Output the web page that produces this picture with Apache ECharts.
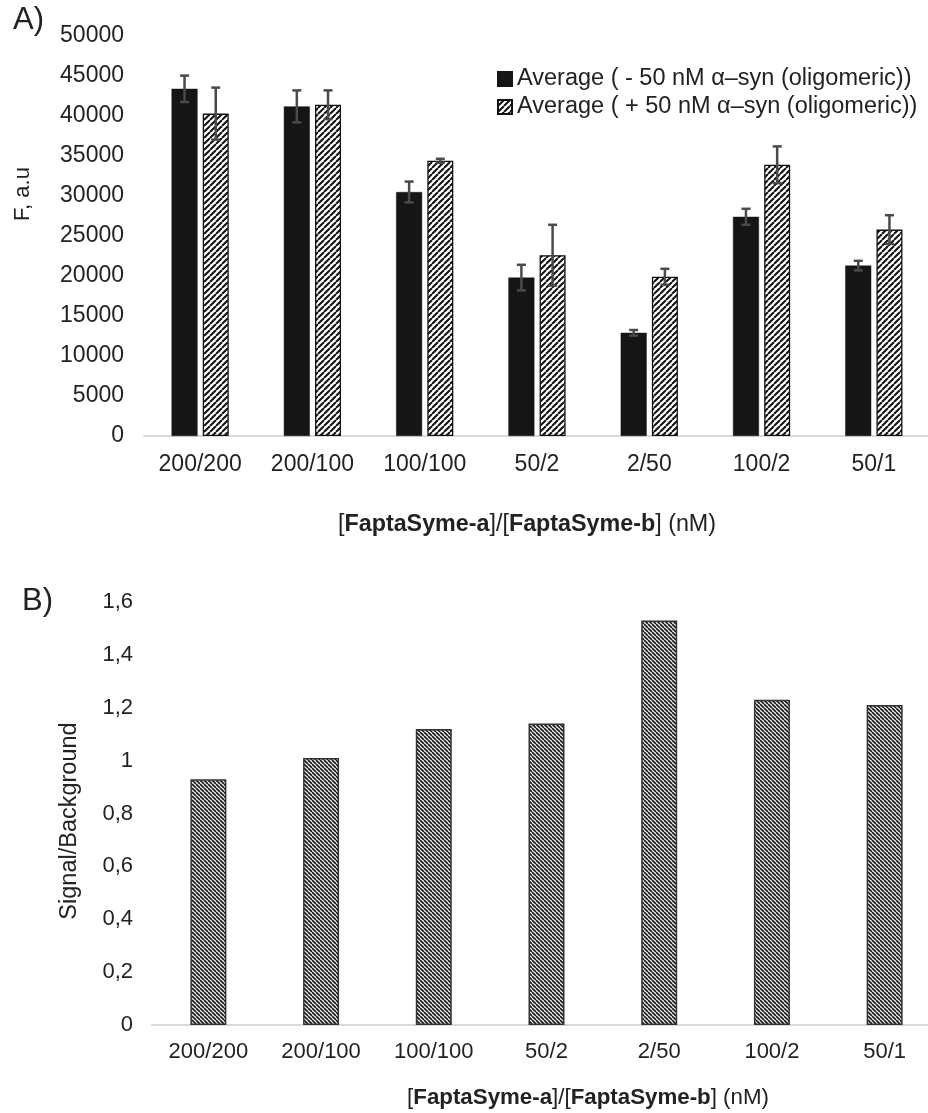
<!DOCTYPE html>
<html>
<head>
<meta charset="utf-8">
<script src="https://cdn.jsdelivr.net/npm/echarts@6/dist/echarts.min.js"></script>
<style>
html,body{margin:0;padding:0;background:#fff;}
#chart{width:928px;height:1113px;}
</style>
</head>
<body>
<div id="chart"></div>
<script>
// ---- data ----
var categories = ['200/200', '200/100', '100/100', '50/2', '2/50', '100/2', '50/1'];
var seriesNames = ['Average ( - 50 nM \u03b1\u2013syn (oligomeric))', 'Average ( + 50 nM \u03b1\u2013syn (oligomeric))'];
var minusValues = [43400, 41200, 30500, 19800, 12900, 27400, 21300];
var minusErr = [1650, 2000, 1300, 1600, 350, 1000, 600];
var plusValues = [40300, 41400, 34400, 22600, 19900, 33900, 25800];
var plusErr = [3250, 1800, 250, 3800, 1000, 2300, 1800];
var ratioValues = [0.93, 1.01, 1.12, 1.14, 1.53, 1.23, 1.21];
var yTicksTop = {min: 0, max: 50000, interval: 5000};
var yTicksBottom = {min: 0, max: 1.6, interval: 0.2};

// ---- styles ----
var FONT = '"Liberation Sans", Arial, sans-serif';
var TXT = '#222222';
var BAR_W = 26, BAR_GAP = 5.2;

function hatch(size, lw, color, bg, dir) {
  var c = document.createElement('canvas');
  c.width = size; c.height = size;
  var g = c.getContext('2d');
  g.fillStyle = bg; g.fillRect(0, 0, size, size);
  g.strokeStyle = color; g.lineWidth = lw;
  g.beginPath();
  for (var k = -1; k <= 1; k++) {
    if (dir === '/') { g.moveTo(k * size, size); g.lineTo(k * size + size, 0); }
    else { g.moveTo(k * size, 0); g.lineTo(k * size + size, size); }
  }
  g.stroke();
  return c;
}
var topHatch = {image: hatch(6, 2, '#111111', '#ffffff', '/'), repeat: 'repeat'};
var botHatch = {image: hatch(4, 1.6, '#1a1a1a', '#eeeeee', '\\'), repeat: 'repeat'};

function errRender(offset) {
  return function (params, api) {
    var idx = api.value(0);
    var lo = api.coord([idx, api.value(1)]);
    var hi = api.coord([idx, api.value(2)]);
    var x = lo[0] + offset;
    var hw = 4.5;
    var st = {stroke: '#4a4a4a', lineWidth: 2.5};
    return {
      type: 'group',
      children: [
        {type: 'line', shape: {x1: x, y1: hi[1], x2: x, y2: lo[1]}, style: st},
        {type: 'line', shape: {x1: x - hw, y1: hi[1], x2: x + hw, y2: hi[1]}, style: st},
        {type: 'line', shape: {x1: x - hw, y1: lo[1], x2: x + hw, y2: lo[1]}, style: st}
      ]
    };
  };
}
function errData(vals, errs) {
  return vals.map(function (v, i) { return [i, v - errs[i], v + errs[i]]; });
}

function xName(size) {
  return {
    fontSize: size, fontFamily: FONT, color: TXT,
    rich: {
      n: {fontSize: size, fontFamily: FONT, color: TXT},
      b: {fontSize: size, fontFamily: FONT, color: TXT, fontWeight: 'bold'}
    }
  };
}
var xNameText = '{n|[}{b|FaptaSyme-a}{n|]/[}{b|FaptaSyme-b}{n|] (nM)}';

var chart = echarts.init(document.getElementById('chart'), null, {renderer: 'canvas'});
chart.setOption({
  backgroundColor: '#ffffff',
  animation: false,
  grid: [
    {left: 144, top: 36, width: 786, height: 400, outerBoundsMode: 'none', containLabel: false},
    {left: 152, top: 602, width: 789, height: 423, outerBoundsMode: 'none', containLabel: false}
  ],
  legend: {
    data: seriesNames,
    orient: 'vertical',
    left: 497, top: 67, padding: 0,
    icon: 'rect',
    itemWidth: 14, itemHeight: 14, itemGap: 4,
    textStyle: {fontSize: 23.5, fontFamily: FONT, color: TXT}
  },
  xAxis: [
    {
      type: 'category', gridIndex: 0, data: categories,
      axisLine: {lineStyle: {color: '#d9d9d9', width: 2}},
      axisTick: {show: false},
      axisLabel: {fontSize: 23, fontFamily: FONT, color: TXT, margin: 17},
      name: xNameText, nameLocation: 'middle', nameGap: 77,
      nameTextStyle: Object.assign(xName(23.3), {padding: [0, 20, 0, 0]})
    },
    {
      type: 'category', gridIndex: 1, data: categories,
      axisLine: {lineStyle: {color: '#d9d9d9', width: 2}},
      axisTick: {show: false},
      axisLabel: {fontSize: 22, fontFamily: FONT, color: TXT, margin: 16},
      name: xNameText, nameLocation: 'middle', nameGap: 62,
      nameTextStyle: Object.assign(xName(22.3), {padding: [0, 0, 0, 83]})
    }
  ],
  yAxis: [
    {
      type: 'value', gridIndex: 0,
      min: yTicksTop.min, max: yTicksTop.max, interval: yTicksTop.interval,
      axisLine: {show: false}, axisTick: {show: false}, splitLine: {show: false},
      axisLabel: {fontSize: 23, fontFamily: FONT, color: TXT, margin: 20,
        formatter: function (v) { return String(v); }}
    },
    {
      type: 'value', gridIndex: 1,
      min: yTicksBottom.min, max: yTicksBottom.max, interval: yTicksBottom.interval,
      axisLine: {show: false}, axisTick: {show: false}, splitLine: {show: false},
      axisLabel: {
        fontSize: 22, fontFamily: FONT, color: TXT, margin: 19,
        formatter: function (v) { return String(+v.toFixed(1)).replace('.', ','); }
      }
    }
  ],
  series: [
    {
      name: seriesNames[0], type: 'bar', xAxisIndex: 0, yAxisIndex: 0,
      data: minusValues, barWidth: BAR_W, barGap: '20%',
      itemStyle: {color: '#151515', borderColor: '#151515', borderWidth: 0.5}
    },
    {
      name: seriesNames[1], type: 'bar', xAxisIndex: 0, yAxisIndex: 0,
      data: plusValues, barWidth: BAR_W, barGap: '20%',
      itemStyle: {color: topHatch, borderColor: '#111111', borderWidth: 1.3}
    },
    {
      name: 'err-minus', type: 'custom', xAxisIndex: 0, yAxisIndex: 0, z: 10,
      renderItem: errRender(-(BAR_W + BAR_GAP) / 2),
      data: errData(minusValues, minusErr)
    },
    {
      name: 'err-plus', type: 'custom', xAxisIndex: 0, yAxisIndex: 0, z: 10,
      renderItem: errRender((BAR_W + BAR_GAP) / 2),
      data: errData(plusValues, plusErr)
    },
    {
      name: 'Signal/Background', type: 'bar', xAxisIndex: 1, yAxisIndex: 1,
      data: ratioValues, barWidth: 36,
      itemStyle: {color: botHatch, borderColor: '#333333', borderWidth: 1.5}
    }
  ],
  graphic: [
    {type: 'text', left: 13, top: 5, style: {text: 'A)', fontSize: 31, fontFamily: FONT, fill: TXT}},
    {type: 'text', left: 22, top: 586, style: {text: 'B)', fontSize: 31, fontFamily: FONT, fill: TXT}},
    {type: 'text', x: 23, y: 194, rotation: Math.PI / 2,
      style: {text: 'F, a.u', fontSize: 22, fontFamily: FONT, fill: TXT, align: 'center', verticalAlign: 'middle'}},
    {type: 'text', x: 70, y: 821, rotation: Math.PI / 2,
      style: {text: 'Signal/Background', fontSize: 23.5, fontFamily: FONT, fill: TXT, align: 'center', verticalAlign: 'middle'}}
  ]
});
</script>
</body>
</html>
